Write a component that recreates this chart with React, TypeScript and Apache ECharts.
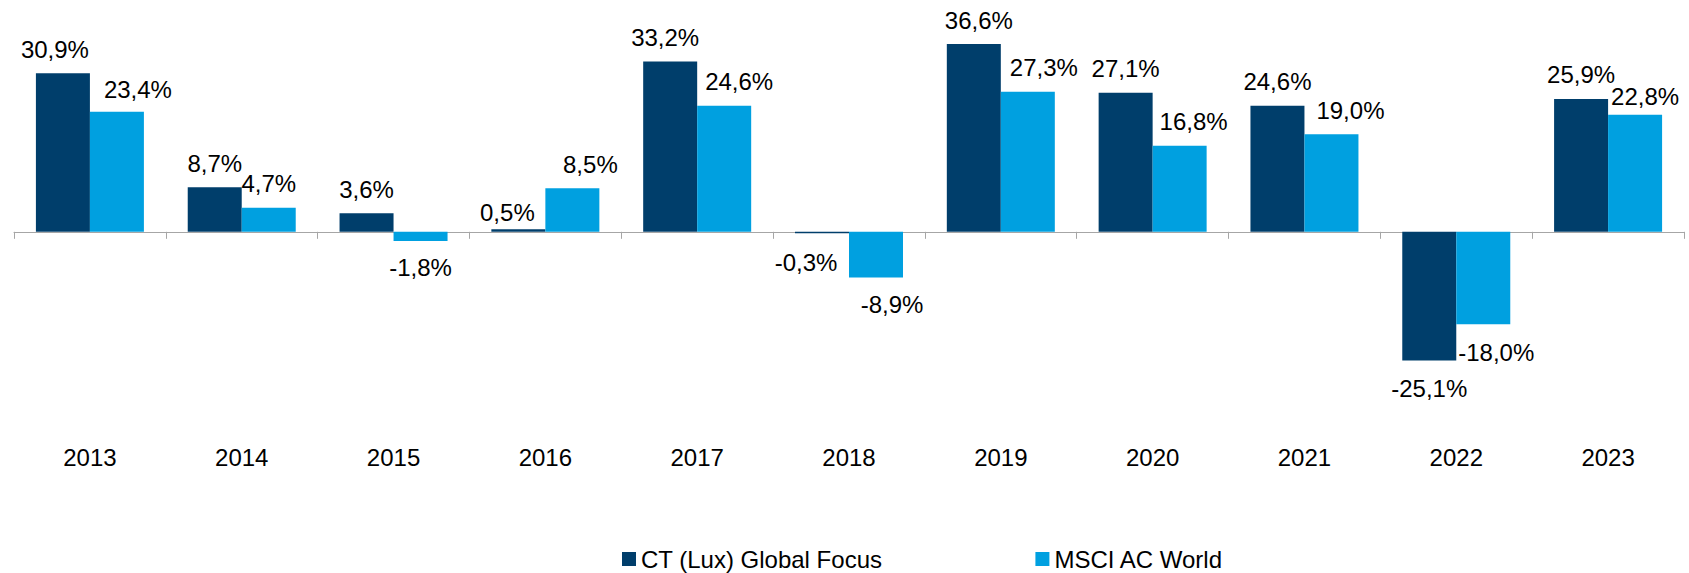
import React, { useEffect, useRef } from "react";
import * as echarts from "echarts";

const years = ["2013", "2014", "2015", "2016", "2017", "2018", "2019", "2020", "2021", "2022", "2023"];
const fundName = "CT (Lux) Global Focus";
const indexName = "MSCI AC World";
const fundValues = [30.9, 8.7, 3.6, 0.5, 33.2, -0.3, 36.6, 27.1, 24.6, -25.1, 25.9];
const indexValues = [23.4, 4.7, -1.8, 8.5, 24.6, -8.9, 27.3, 16.8, 19.0, -18.0, 22.8];

// label nudges (px) as placed in the original chart
const fundLabelShift = [[-8, 0], [0, 0], [0, 0], [-11, 7], [-5, 0], [-16, 3], [5, 0], [0, 0], [0, 0], [0, 2], [0, 0]];
const indexLabelShift = [[21, 2], [0, 0], [0, 0], [18, 0], [15, 0], [16, 1], [16, 0], [14, 0], [19, 0], [13, 2], [10, 6]];

const FONT = "'Liberation Sans', Arial, sans-serif";
const fmt = (v: number) => v.toFixed(1).replace(".", ",") + "%";

function buildData(values: number[], shifts: number[][]) {
  return values.map((v, i) => ({
    value: v,
    label: {
      position: v >= 0 ? "top" : "bottom",
      distance: v >= 0 ? 12 : 14,
      offset: shifts[i],
    },
  }));
}

export default function App() {
  const ref = useRef<HTMLDivElement>(null);
  useEffect(() => {
    document.body.style.margin = "0";
    if (!ref.current) return;
    const chart = echarts.init(ref.current, null, { renderer: "svg" });
    const labelCommon = {
      show: true,
      color: "#000",
      fontSize: 24,
      fontFamily: FONT,
      formatter: (p: any) => fmt(p.value),
    };
    chart.setOption({
      animation: false,
      backgroundColor: "#fff",
      textStyle: { fontFamily: FONT },
      grid: { left: 14, right: 5, top: 1, bottom: 136, containLabel: false },
      legend: {
        left: 622,
        top: 547,
        padding: 0,
        icon: "rect",
        itemWidth: 14,
        itemHeight: 14,
        itemGap: 153,
        textStyle: { color: "#000", fontSize: 24, fontFamily: FONT, lineHeight: 24 },
        data: [fundName, indexName],
      },
      xAxis: [
        {
          type: "category",
          data: years,
          position: "bottom",
          axisLine: { show: false, onZero: false },
          axisTick: { show: false },
          axisLabel: { color: "#000", fontSize: 24, fontFamily: FONT, margin: 8 },
        },
        {
          type: "category",
          data: years,
          position: "top",
          axisLine: { show: true, onZero: true, lineStyle: { color: "#a6a6a6", width: 1 } },
          axisTick: { show: true, inside: true, length: 7, lineStyle: { color: "#a6a6a6" } },
          axisLabel: { show: false },
        },
      ],
      yAxis: {
        type: "value",
        min: -40,
        max: 45,
        show: false,
        splitLine: { show: false },
      },
      series: [
        {
          name: fundName,
          type: "bar",
          xAxisIndex: 0,
          barWidth: 54,
          barGap: "0%",
          itemStyle: { color: "#003E6B" },
          label: labelCommon,
          data: buildData(fundValues, fundLabelShift),
        },
        {
          name: indexName,
          type: "bar",
          xAxisIndex: 0,
          barWidth: 54,
          barGap: "0%",
          itemStyle: { color: "#00A0E0" },
          label: labelCommon,
          data: buildData(indexValues, indexLabelShift),
        },
      ],
    });
    return () => chart.dispose();
  }, []);
  return <div ref={ref} style={{ width: 1689, height: 573 }} />;
}
